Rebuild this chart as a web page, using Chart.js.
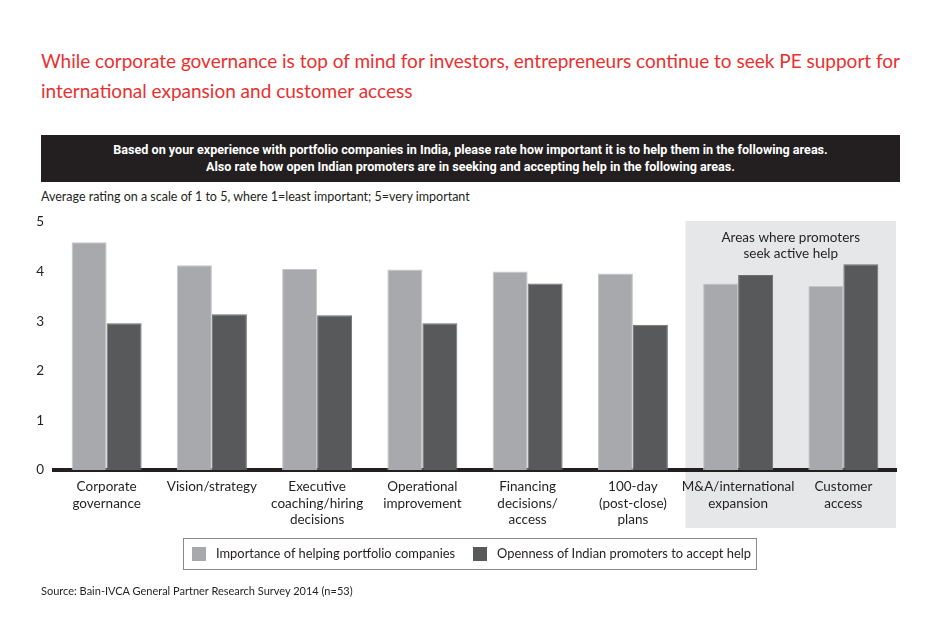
<!DOCTYPE html>
<html>
<head>
<meta charset="utf-8">
<script src="https://cdn.jsdelivr.net/npm/chart.js@4.4.0/dist/chart.umd.min.js"></script>
<style>
  body{margin:0;background:#fff;font-family:Lato,sans-serif;}
  #wrap{position:relative;width:950px;height:642px;overflow:hidden;}
  #chart{position:absolute;left:0;top:0;}
  .title{position:absolute;left:41px;top:46px;width:900px;color:#e8312f;font-size:19px;line-height:30px;white-space:nowrap;}
  .bar{position:absolute;left:41px;top:135px;width:859px;height:47px;background:#231f20;color:#fff;
       font-family:Roboto,sans-serif;font-weight:bold;font-size:12.6px;line-height:17px;text-align:center;padding-top:6px;box-sizing:border-box;white-space:nowrap;}
  .sub{position:absolute;left:41px;top:189px;font-size:12.5px;color:#231f20;}
  .src{position:absolute;left:41px;top:584px;font-size:11px;color:#231f20;}
  .legend{position:absolute;left:183px;top:538px;width:574px;height:32px;border:1px solid #8a8a8c;box-sizing:border-box;
          font-size:12.9px;color:#231f20;white-space:nowrap;}
  .legend span.sw{position:absolute;top:8px;width:14px;height:14px;}
  .legend span.tx{position:absolute;top:6px;}
</style>
</head>
<body>
<div id="wrap">
  <div class="title">While corporate governance is top of mind for investors, entrepreneurs continue to seek PE support for<br>international expansion and customer access</div>
  <div class="bar">Based on your experience with portfolio companies in India, please rate how important it is to help them in the following areas.<br>Also rate how open Indian promoters are in seeking and accepting help in the following areas.</div>
  <div class="sub">Average rating on a scale of 1 to 5, where 1=least important; 5=very important</div>
  <canvas id="chart" width="950" height="642"></canvas>
  <div class="legend" id="legend"></div>
  <div class="src">Source: Bain-IVCA General Partner Research Survey 2014 (n=53)</div>
</div>
<script>
// categories and values
var categories=[
  ['Corporate','governance'],
  ['Vision/strategy'],
  ['Executive','coaching/hiring','decisions'],
  ['Operational','improvement'],
  ['Financing','decisions/','access'],
  ['100-day','(post-close)','plans'],
  ['M&A/international','expansion'],
  ['Customer','access']
];
var importance=[4.59,4.13,4.05,4.04,4.00,3.96,3.76,3.71];
var openness=[2.96,3.14,3.12,2.96,3.76,2.93,3.93,4.15];
var seriesNames=['Importance of helping portfolio companies','Openness of Indian promoters to accept help'];
var seriesColors=['#a7a9ac','#58595b'];
var yTicks=[0,1,2,3,4,5];
var shadedFrom=6; // first category in the "seek active help" box
var shadedNote=['Areas where promoters','seek active help'];

// grey box behind the last two categories
var shadePlugin={
  id:'shade',
  beforeDraw:function(chart){
    var ctx=chart.ctx, x=chart.scales.x, y=chart.scales.y;
    var half=(x.getPixelForValue(1)-x.getPixelForValue(0))/2;
    var left=x.getPixelForValue(shadedFrom)-half;
    var right=chart.chartArea.right;
    var top=y.getPixelForValue(5)-1;
    ctx.save();
    ctx.fillStyle='#e6e7e8';
    ctx.fillRect(left,top,right-left,528-top);
    ctx.fillStyle='#231f20';
    ctx.font='13.5px Lato';
    ctx.textAlign='center';
    ctx.textBaseline='middle';
    shadedNote.forEach(function(t,i){ctx.fillText(t,(left+right)/2,top+17+i*16);});
    ctx.restore();
  }
};

new Chart(document.getElementById('chart'),{
  type:'bar',
  data:{
    labels:categories,
    datasets:[
      {label:seriesNames[0],data:importance,backgroundColor:seriesColors[0],borderColor:'#c4c5c7',borderWidth:{top:1,left:1,right:1,bottom:0}},
      {label:seriesNames[1],data:openness,backgroundColor:seriesColors[1],borderColor:'#6d6e71',borderWidth:{top:1,left:1,right:1,bottom:0}}
    ]
  },
  options:{
    responsive:false,
    animation:false,
    layout:{padding:{top:222,right:54,left:0,bottom:0}},
    datasets:{bar:{categoryPercentage:0.665,barPercentage:1}},
    plugins:{legend:{display:false},tooltip:{enabled:false}},
    scales:{
      x:{
        z:1,
        grid:{display:false},
        border:{display:true,color:'#231f20',width:4},
        ticks:{color:'#231f20',font:{family:'Lato',size:13.5,lineHeight:1.2},padding:1,maxRotation:0,autoSkip:false},
        afterFit:function(s){s.height=172;}
      },
      y:{
        min:0,max:5,
        afterBuildTicks:function(s){s.ticks=yTicks.map(function(v){return {value:v};});},
        grid:{display:false},
        border:{display:false},
        ticks:{color:'#231f20',font:{family:'Lato',size:13.5},padding:2},
        afterFit:function(s){s.width=54;}
      }
    }
  },
  plugins:[shadePlugin]
});

// legend with a frame, as in the picture
var lg=document.getElementById('legend');
var pos=[[8,32],[289,313]];
seriesNames.forEach(function(n,i){
  var sw=document.createElement('span');sw.className='sw';sw.style.left=pos[i][0]+'px';sw.style.background=seriesColors[i];
  var tx=document.createElement('span');tx.className='tx';tx.style.left=pos[i][1]+'px';tx.textContent=n;
  lg.appendChild(sw);lg.appendChild(tx);
});
</script>
</body>
</html>
